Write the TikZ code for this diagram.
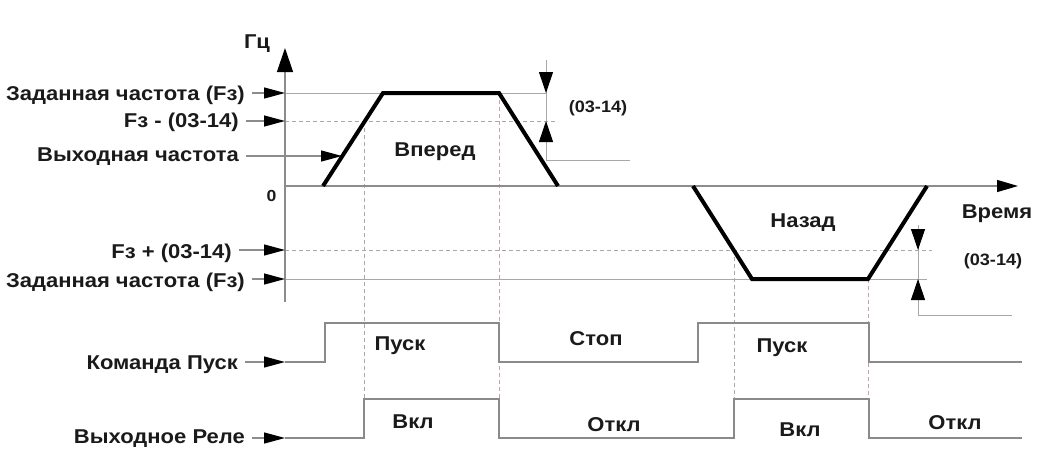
\documentclass[tikz,border=0pt]{standalone}
\usepackage{fontspec}
\newfontfamily\lblfont{Liberation Sans Bold}[FakeStretch=1.1]
\usetikzlibrary{arrows.meta}
\definecolor{axisgray}{HTML}{8C8C8C}
\definecolor{refgray}{HTML}{A8A8A8}
\definecolor{siggray}{HTML}{8A8A8A}
\definecolor{pinkgray}{HTML}{C4A4A4}
\definecolor{txt}{HTML}{1A1A1A}
\begin{document}
\begin{tikzpicture}[x=1pt,y=-1pt,
  lab/.style={font=\lblfont\fontsize{20}{22}\selectfont, inner sep=0pt, text=txt},
  labR/.style={lab, anchor=base east},
  labC/.style={lab, anchor=base},
  small/.style={font=\lblfont\fontsize{16.5}{18}\selectfont, inner sep=0pt, text=txt, anchor=base},
  axisline/.style={draw=axisgray, line width=1.3pt},
  refline/.style={draw=refgray, line width=1pt},
  dashref/.style={draw=refgray, line width=1pt, dash pattern=on 4pt off 3pt},
  vdot/.style={draw=refgray, line width=1pt, dash pattern=on 4pt off 3pt},
  vdotp/.style={draw=pinkgray, line width=1pt, dash pattern=on 4pt off 3pt},
  sig/.style={draw=siggray, line width=1.5pt},
  trap/.style={draw=black, line width=4pt},
  lblarrow/.style={draw=axisgray, line width=1.2pt, shorten <=7pt, -{Triangle[length=21pt,width=11pt,fill=black,color=black]}},
  tip/.style={-{Triangle[length=21pt,width=14pt,fill=black,color=black]}, draw=refgray, line width=1pt}
]
\useasboundingbox (0,0) rectangle (1039,459);

% key coordinates
\coordinate (Ytop) at (285,48);
\coordinate (Ybot) at (285,302);
\coordinate (O) at (285,186);
\coordinate (Tend) at (1018,186);
\coordinate (yF) at (285,93);
\coordinate (yFm) at (285,121);
\coordinate (yFp) at (285,250);
\coordinate (yFn) at (285,279);
\coordinate (yCmd) at (285,362);
\coordinate (yRel) at (285,438);
\coordinate (yOut) at (342,156);

% trapezoids
\coordinate (A1) at (323,186);
\coordinate (A2) at (383,93);
\coordinate (A3) at (499,93);
\coordinate (A4) at (558,186);
\coordinate (B1) at (693,186);
\coordinate (B2) at (752,279);
\coordinate (B3) at (868,279);
\coordinate (B4) at (927,186);

% dimension coordinates
\coordinate (D1t) at (546,60);
\coordinate (D1b) at (546,160);
\coordinate (D1e) at (630,160);
\coordinate (D1u) at (546,71);
\coordinate (D1a) at (546,93);
\coordinate (D1m) at (546,121);
\coordinate (D1l) at (546,145);
\coordinate (D2t) at (918,225);
\coordinate (D2b) at (918,315);
\coordinate (D2e) at (1012,315);
\coordinate (D2u) at (918,229);
\coordinate (D2a) at (918,250);
\coordinate (D2m) at (918,279);
\coordinate (D2l) at (918,300);

% reference lines
\draw[refline] (yF) -- (D1a);
\draw[dashref] (yFm) -- (558,121);
\draw[dashref] (yFp) -- (932,250);
\draw[refline] (yFn) -- (927,279);

% vertical dotted lines
\draw[vdot] (364,121) -- (364,399);
\draw[vdotp] (A3) -- (499,399);
\draw[vdot] (734,250) -- (734,399);
\draw[vdotp] (B3) -- (868,399);

% axes
\draw[axisline, -{Triangle[length=24pt,width=16pt,fill=black,color=black]}] (Ybot) -- (Ytop);
\draw[axisline, -{Triangle[length=21pt,width=12pt,fill=black,color=black]}] (O) -- (Tend);

% dimension lines
\draw[refline] (D1t) -- (D1b) -- (D1e);
\draw[tip] (D1u) -- (D1a);
\draw[tip] (D1l) -- (D1m);
\draw[refline] (D2t) -- (D2b) -- (D2e);
\draw[tip] (D2u) -- (D2a);
\draw[tip] (D2l) -- (D2m);

% trapezoids
\draw[trap] (A1) -- (A2) -- (A3) -- (A4);
\draw[trap] (B1) -- (B2) -- (B3) -- (B4);

% signals
\draw[sig] (yCmd) -- (325,362) -- (325,323) -- (499,323) -- (499,362) -- (698,362) -- (698,323) -- (869,323) -- (869,362) -- (1022,362);
\draw[sig] (yRel) -- (364,438) -- (364,399) -- (499,399) -- (499,438) -- (734,438) -- (734,399) -- (869,399) -- (869,438) -- (1022,438);

% axis labels
\node[labC] (hz) at (257,48) {Гц};
\node[font=\lblfont\fontsize{16}{18}\selectfont, inner sep=0pt, text=txt, anchor=base] (zero) at (271.5,201) {0};
\node[labC] (time) at (997,218) {Время};

% left labels
\node[labR] (l1) at (245,100) {Заданная частота (Fз)};
\node[labR] (l2) at (239,127) {Fз - (03-14)};
\node[labR] (l3) at (239,161) {Выходная частота};
\node[labR] (l4) at (232,258) {Fз + (03-14)};
\node[labR] (l5) at (245,287) {Заданная частота (Fз)};
\node[labR] (l6) at (238,369) {Команда Пуск};
\node[labR] (l7) at (245,443) {Выходное Реле};

\draw[lblarrow] (l1.east |- yF) -- (yF);
\draw[lblarrow] (l2.east |- yFm) -- (yFm);
\draw[lblarrow] (l3.east |- yOut) -- (yOut);
\draw[lblarrow] (l4.east |- yFp) -- (yFp);
\draw[lblarrow] (l5.east |- yFn) -- (yFn);
\draw[lblarrow] (l6.east |- yCmd) -- (yCmd);
\draw[lblarrow] (l7.east |- yRel) -- (yRel);

% region labels
\node[labC] (fwd) at (435,156) {Вперед};
\node[labC] (rev) at (803,227) {Назад};
\node[small] (d1) at (598,112) {(03-14)};
\node[small] (d2) at (993,265) {(03-14)};

% signal labels
\node[labC] (run1) at (400,350) {Пуск};
\node[labC] (stop) at (596,345) {Стоп};
\node[labC] (run2) at (782,352) {Пуск};
\node[labC] (on1) at (413,428) {Вкл};
\node[labC] (off1) at (614,431) {Откл};
\node[labC] (on2) at (800,436) {Вкл};
\node[labC] (off2) at (955,429) {Откл};
\end{tikzpicture}
\end{document}
